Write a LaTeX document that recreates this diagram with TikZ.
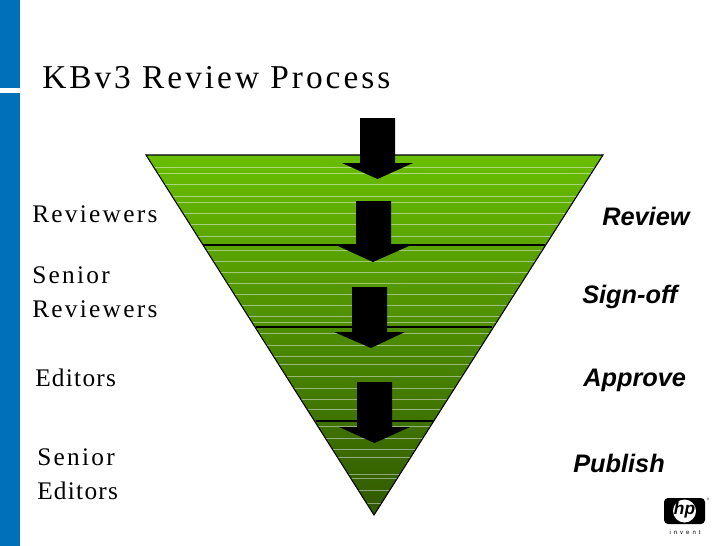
\documentclass[tikz,border=0pt]{standalone}
\usepackage{fontspec}
\setmainfont{Liberation Serif}
\setsansfont{Liberation Sans}
\usetikzlibrary{math}
\definecolor{hpblue}{RGB}{0,112,184}
\definecolor{greentop}{RGB}{104,190,0}
\definecolor{greenbot}{RGB}{48,88,0}
\newfontfamily\spaced[LetterSpace=9]{Liberation Serif}
\newfontfamily\tight[LetterSpace=5]{Liberation Serif}
\tikzset{
  leftlabel/.style={anchor=base west,inner sep=0pt,font=\spaced\fontsize{19}{19}\selectfont},
  editlabel/.style={anchor=base west,inner sep=0pt,font=\tight\fontsize{19}{19}\selectfont},
  rightlabel/.style={anchor=base west,inner sep=0pt,font=\sffamily\bfseries\itshape\fontsize{19}{19}\selectfont},
  levelline/.style={line width=1.5pt,black},
}
\begin{document}
\begin{tikzpicture}[x=0.75pt,y=-0.75pt]
\tikzmath{
\W=728;
\H=546;
\tipx=374;
\tipy=515;
}
\useasboundingbox (0,0) rectangle (\W,\H);

% side bar
\fill[hpblue] (0,0) rectangle (20,88);
\fill[hpblue] (0,93) rectangle (20,\H);

\node[anchor=base west,inner sep=0pt,font=\spaced\fontsize{25}{25}\selectfont] (title) at (42,88) {KBv3 Review Process};

% funnel
\shade[top color=greentop,bottom color=greenbot] (146,155) -- (603,155) -- (\tipx,\tipy) -- cycle;
\begin{scope}
\clip (146,155) -- (603,155) -- (\tipx,\tipy) -- cycle;
\foreach \sy in {167,173,184,196,202,213,224,236,250,261,272,283,294,305,316,322,333,345,356,364,376,388,399,409,426,438,449,457,474,478,490,503}
  \draw[white,opacity=0.45,line width=0.6pt] (146,\sy) -- (603,\sy);
\end{scope}
\draw[line width=0.8pt] (146,155) -- (603,155) -- (\tipx,\tipy) -- cycle;
\draw[levelline] (203,245) -- (545,245);
\draw[levelline] (256,327) -- (492,327);
\draw[levelline] (316,421) -- (434,421);

% block arrows
\foreach \ax/\ay/\tx in {360/118/377.5,356/201/373,352/287/371,357/382/374.5}{
  \fill (\ax,\ay) -- ++(35,0) -- ++(0,45) -- ++(18,0) -- (\tx,\ay+61) -- (\ax-18,\ay+45) -- (\ax,\ay+45) -- cycle;
}

% left labels
\node[leftlabel] (revA) at (32,222) {Reviewers};
\node[leftlabel] (senA) at (32,283) {Senior};
\node[leftlabel] (revB) at (32,317) {Reviewers};
\node[editlabel] (edA) at (35,386) {Editors};
\node[leftlabel] (senB) at (37,465) {Senior};
\node[editlabel] (edB) at (37,499) {Editors};

% right labels
\node[rightlabel] (review) at (602,225) {Review};
\node[rightlabel] (signoff) at (582,303) {Sign-off};
\node[rightlabel] (approve) at (583,386) {Approve};
\node[rightlabel] (publish) at (573,472) {Publish};

% logo
\fill[rounded corners=3pt] (664,498) rectangle (705,524);
\fill[white] (684.5,511) circle (11.5);
\node[inner sep=0pt,font=\sffamily\bfseries\itshape\fontsize{13}{13}\selectfont] (hp) at (684.5,510.5) {hp};
\node[inner sep=0pt,font=\sffamily\fontsize{2.5}{3}\selectfont] (reg) at (708,499) {®};
\node[inner sep=0pt,font=\sffamily\fontsize{4.5}{5}\selectfont] (invent) at (685,532) {i\,\,\,n\,\,\,v\,\,\,e\,\,\,n\,\,\,t};
\end{tikzpicture}
\end{document}
